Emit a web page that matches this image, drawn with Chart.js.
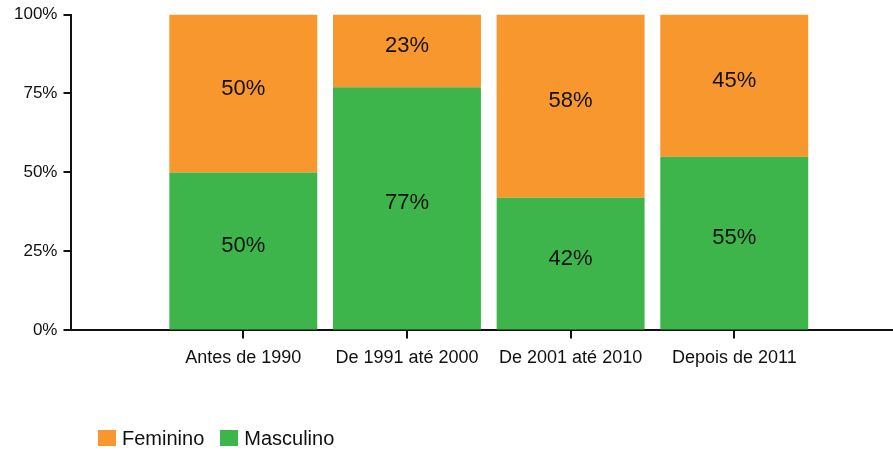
<!DOCTYPE html>
<html>
<head>
<meta charset="utf-8">
<script src="https://cdn.jsdelivr.net/npm/chart.js@4.4.1/dist/chart.umd.min.js"></script>
<style>
  html, body { margin: 0; padding: 0; background: #fff; }
  #wrap { position: relative; width: 893px; height: 452px; }
  #legend { position: absolute; left: 98px; top: 428px; display: flex; font-family: 'Liberation Sans', Arial, sans-serif; font-size: 20px; color: #111; line-height: 20px; }
  #legend .item { display: flex; align-items: center; margin-right: 16px; }
  #legend .box { width: 18px; height: 16px; margin-right: 6px; }
</style>
</head>
<body>
<div id="wrap">
  <canvas id="genderChart" width="893" height="452"></canvas>
  <div id="legend"></div>
</div>
<script>
const categories = ['Antes de 1990', 'De 1991 até 2000', 'De 2001 até 2010', 'Depois de 2011'];
const masculino = [50, 77, 42, 55];
const feminino = [50, 23, 58, 45];
const yTicks = [0, 25, 50, 75, 100];

const orange = '#F7972E';
const green = '#3DB54B';

Chart.defaults.font.family = "'Liberation Sans', Arial, sans-serif";
Chart.defaults.color = '#111';

// draws the percentage in the middle of each bar segment
const segmentLabels = {
    id: 'segmentLabels',
    afterDatasetsDraw(chart) {
        const ctx = chart.ctx;
        ctx.save();
        ctx.font = "22px 'Liberation Sans', Arial, sans-serif";
        ctx.fillStyle = '#111';
        ctx.textAlign = 'center';
        ctx.textBaseline = 'middle';
        chart.data.datasets.forEach((ds, i) => {
            chart.getDatasetMeta(i).data.forEach((bar, j) => {
                const mid = (bar.y + bar.base) / 2;
                ctx.fillText(ds.data[j].y + '%', bar.x, mid - 5);
            });
        });
        ctx.restore();
    }
};

const ctx = document.getElementById('genderChart').getContext('2d');
const chart = new Chart(ctx, {
    type: 'bar',
    data: {
        datasets: [
            {
                label: 'Masculino',
                data: masculino.map((v, i) => ({ x: i + 1, y: v })),
                backgroundColor: green,
                barPercentage: 0.904,
                categoryPercentage: 1
            },
            {
                label: 'Feminino',
                data: feminino.map((v, i) => ({ x: i + 1, y: v })),
                backgroundColor: orange,
                barPercentage: 0.904,
                categoryPercentage: 1
            }
        ]
    },
    options: {
        responsive: false,
        animation: false,
        layout: { padding: { left: 8, top: 14, right: 0, bottom: 74 } },
        plugins: {
            legend: { display: false },
            tooltip: { enabled: false }
        },
        scales: {
            x: {
                type: 'linear',
                stacked: true,
                offset: false,
                min: -0.05,
                max: 4.97,
                afterBuildTicks: (scale) => {
                    scale.ticks = categories.map((c, i) => ({ value: i + 1 }));
                },
                border: { color: '#111', width: 2 },
                grid: { offset: false, drawOnChartArea: false, drawTicks: true, tickLength: 8, color: '#111', lineWidth: 2 },
                ticks: {
                    autoSkip: false,
                    maxRotation: 0,
                    padding: 9,
                    font: { size: 18 },
                    callback: (v) => categories[v - 1]
                }
            },
            y: {
                stacked: true,
                min: 0,
                max: 100,
                afterBuildTicks: (scale) => {
                    scale.ticks = yTicks.map(v => ({ value: v }));
                },
                border: { color: '#111', width: 2 },
                grid: { drawOnChartArea: false, drawTicks: true, tickLength: 8, color: '#111', lineWidth: 2 },
                ticks: {
                    padding: 6,
                    font: { size: 17, lineHeight: 1 },
                    callback: (v) => v + '%'
                }
            }
        }
    },
    plugins: [segmentLabels]
});

// legend: Feminino first, then Masculino
const legendEl = document.getElementById('legend');
chart.data.datasets.slice().reverse().forEach(ds => {
    const item = document.createElement('div');
    item.className = 'item';
    item.innerHTML = '<span class="box" style="background:' + ds.backgroundColor + '"></span>' + ds.label;
    legendEl.appendChild(item);
});
</script>
</body>
</html>
